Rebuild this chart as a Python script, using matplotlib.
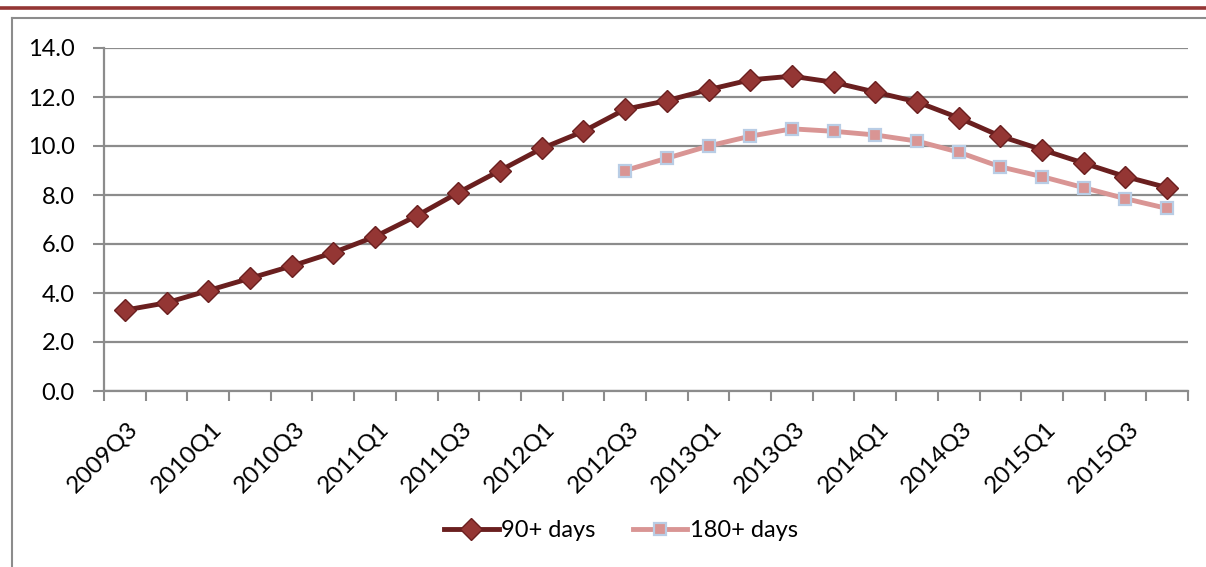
import numpy as np
import matplotlib
matplotlib.use("Agg")
from matplotlib import pyplot as plt
from matplotlib.lines import Line2D
from matplotlib.transforms import ScaledTranslation

# quarters 2009Q3 .. 2015Q4
quarters = ["2009Q3", "2009Q4", "2010Q1", "2010Q2", "2010Q3", "2010Q4",
            "2011Q1", "2011Q2", "2011Q3", "2011Q4", "2012Q1", "2012Q2",
            "2012Q3", "2012Q4", "2013Q1", "2013Q2", "2013Q3", "2013Q4",
            "2014Q1", "2014Q2", "2014Q3", "2014Q4", "2015Q1", "2015Q2",
            "2015Q3", "2015Q4"]

jours_90 = [3.3, 3.6, 4.1, 4.6, 5.1, 5.65, 6.3, 7.15, 8.1, 9.0, 9.9, 10.6,
            11.5, 11.85, 12.3, 12.7, 12.85, 12.6, 12.2, 11.8, 11.15, 10.4,
            9.85, 9.3, 8.75, 8.3]

# 180+ days only from 2012Q3
jours_180 = [np.nan] * 12 + [9.0, 9.5, 10.0, 10.4, 10.7, 10.6, 10.45, 10.2,
                             9.75, 9.15, 8.75, 8.3, 7.85, 7.45]

noms_series = ["90+ days", "180+ days"]

plt.rcParams['font.family'] = ['Lato', 'DejaVu Sans']

fig = plt.figure(figsize=(12.06, 5.67), dpi=100)
ax = fig.add_axes([104/1206, 1-391/567, (1188-104)/1206, (391-48)/567])

x = np.arange(len(quarters))
ax.plot(x, jours_90, color='#6a1f1f', linewidth=3.5, marker='D', markersize=11,
        markerfacecolor='#943634', markeredgecolor='#6a1f1f', markeredgewidth=1,
        label=noms_series[0], zorder=3)
ax.plot(x, jours_180, color='#d99594', linewidth=3.5, marker='s', markersize=8.5,
        markerfacecolor='#d99594', markeredgecolor='#b9cde5', markeredgewidth=1.6,
        label=noms_series[1], zorder=3)

ax.set_xlim(-0.5, len(quarters) - 0.5)
ax.set_ylim(0, 14)
ax.set_yticks(np.arange(0, 14.1, 2))
ax.set_yticklabels([f"{v:.1f}" for v in np.arange(0, 14.1, 2)], fontsize=17)
ax.yaxis.grid(True, color='#8c8c8c', linewidth=1.6)
ax.set_axisbelow(True)

# tick marks between categories, labels every second category
ax.set_xticks(np.arange(-0.5, len(quarters), 1))
ax.set_xticklabels([])
ax.set_xticks(x[::2], [quarters[i] for i in x[::2]], minor=True)
ax.tick_params(axis='x', which='major', length=7, width=1.5, color='#8c8c8c', direction='out')
ax.tick_params(axis='x', which='minor', length=0, pad=25, labelsize=17.5)
ax.tick_params(axis='y', length=8, width=1.5, color='#8c8c8c', pad=13)
for lab in ax.get_xticklabels(minor=True):
    lab.set_rotation(45)
    lab.set_ha('right')
    lab.set_va('center')
    lab.set_rotation_mode('anchor')
    lab.set_transform(lab.get_transform() + ScaledTranslation(0.10, 0, fig.dpi_scale_trans))

for cote in ['top', 'right']:
    ax.spines[cote].set_visible(False)
for cote in ['left', 'bottom']:
    ax.spines[cote].set_color('#8c8c8c')
    ax.spines[cote].set_linewidth(1.6)

fig.legend(loc='center', bbox_to_anchor=(0.515, 0.064), ncol=2, frameon=False,
           fontsize=17, handlelength=2.3, handletextpad=0.1, columnspacing=1.6)

# cadre et ligne rouge en haut
fig.add_artist(Line2D([0, 1], [1-7.5/567, 1-7.5/567], color='#943634', linewidth=2.6))
fig.add_artist(Line2D([12/1206, 1], [1-18/567, 1-18/567], color='#8c8c8c', linewidth=1.5))
fig.add_artist(Line2D([12/1206, 12/1206], [1-18/567, 0], color='#8c8c8c', linewidth=1.5))

fig.savefig("out.png", dpi=100)
